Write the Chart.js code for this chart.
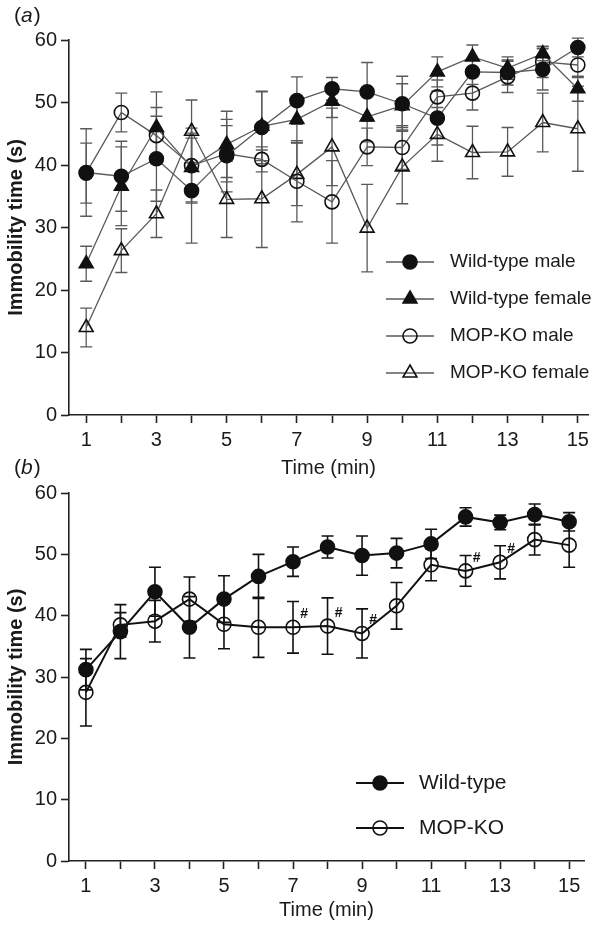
<!DOCTYPE html>
<html>
<head>
<meta charset="utf-8">
<script src="https://cdn.jsdelivr.net/npm/chart.js@4.4.0/dist/chart.umd.min.js"></script>
<style>
  body { margin: 0; background: #fff; }
  .wrap { position: relative; width: 600px; height: 928px; }
  canvas { position: absolute; left: 0; }
  #panelA { top: 0; }
  #panelB { top: 455px; }
</style>
</head>
<body>
<div class="wrap">
  <canvas id="panelA" width="600" height="482"></canvas>
  <canvas id="panelB" width="600" height="473"></canvas>
</div>
<script>
const times = [1, 2, 3, 4, 5, 6, 7, 8, 9, 10, 11, 12, 13, 14, 15];

// panel (a): mean immobility time per sex / genotype
const wtMale = [38.8, 38.2, 41.0, 35.9, 41.5, 46.0, 50.3, 52.2, 51.7, 49.8, 47.5, 54.9, 54.8, 55.3, 58.8];
const wtMaleErr = [7.0, 5.6, 6.8, 8.4, 5.8, 5.8, 3.8, 1.8, 4.7, 4.4, 4.3, 2.0, 2.0, 3.3, 1.5];
const wtFemale = [24.2, 36.6, 46.0, 39.6, 43.3, 46.2, 47.3, 50.2, 47.7, 49.5, 54.9, 57.3, 55.5, 57.8, 52.2];
const wtFemaleErr = [2.8, 6.3, 5.7, 5.5, 5.3, 5.5, 3.7, 2.6, 4.0, 3.5, 2.4, 1.9, 1.8, 1.1, 2.0];
const koMale = [38.7, 48.4, 44.7, 39.9, 41.8, 40.9, 37.4, 34.1, 42.9, 42.8, 50.9, 51.5, 54.1, 56.5, 56.0];
const koMaleErr = [4.8, 3.1, 4.5, 6.0, 4.5, 2.0, 6.5, 6.6, 3.0, 3.5, 2.7, 2.7, 2.5, 2.5, 2.0];
const koFemale = [14.0, 26.3, 32.2, 45.4, 34.5, 34.6, 38.5, 42.9, 29.9, 39.7, 44.9, 42.0, 42.1, 46.8, 45.8];
const koFemaleErr = [3.1, 3.5, 3.8, 5.0, 6.1, 7.8, 5.0, 6.2, 7.0, 5.9, 4.3, 4.2, 3.9, 4.7, 6.8];

// panel (b): sexes pooled
const wtAll = [31.2, 37.4, 43.9, 38.1, 42.7, 46.4, 48.8, 51.2, 49.8, 50.2, 51.7, 56.1, 55.2, 56.5, 55.3];
const wtAllErr = [3.3, 4.4, 4.0, 5.0, 3.8, 3.6, 2.4, 1.8, 3.2, 2.4, 2.4, 1.5, 1.2, 1.7, 1.5];
const koAll = [27.5, 38.5, 39.1, 42.7, 38.6, 38.1, 38.1, 38.3, 37.1, 41.6, 48.3, 47.3, 48.7, 52.4, 51.5];
const koAllErr = [5.5, 2.0, 3.4, 3.6, 4.0, 4.9, 4.2, 4.6, 4.0, 3.8, 2.6, 2.5, 2.7, 2.5, 3.6];
const hashTimes = [7, 8, 9, 12, 13]; // significant vs wild-type (#)

const yTicks = [0, 10, 20, 30, 40, 50, 60];

Chart.defaults.font.family = '"Liberation Sans", Arial, sans-serif';
Chart.defaults.color = '#1a1a1a';

const toPoints = (vals) => times.map((t, i) => ({ x: t, y: vals[i] }));

// vertical SEM bars with caps, drawn under the lines
const errorBars = {
  id: 'errorBars',
  beforeDatasetsDraw(chart) {
    const ctx = chart.ctx;
    const xs = chart.scales.x;
    const ys = chart.scales.y;
    chart.data.datasets.forEach((ds) => {
      ctx.save();
      ctx.strokeStyle = ds.errorColor;
      ctx.lineWidth = ds.errorWidth;
      ds.data.forEach((p, i) => {
        const px = xs.getPixelForValue(p.x);
        const top = ys.getPixelForValue(p.y + ds.errors[i]);
        const bot = ys.getPixelForValue(p.y - ds.errors[i]);
        ctx.beginPath();
        ctx.moveTo(px, top);
        ctx.lineTo(px, bot);
        ctx.moveTo(px - 6, top);
        ctx.lineTo(px + 6, top);
        ctx.moveTo(px - 6, bot);
        ctx.lineTo(px + 6, bot);
        ctx.stroke();
      });
      ctx.restore();
    });
  },
};

// legend sitting inside the plot area
const insetLegend = {
  id: 'insetLegend',
  afterDraw(chart, args, opts) {
    const ctx = chart.ctx;
    chart.data.datasets.forEach((ds, i) => {
      const y = opts.top + i * opts.gap;
      ctx.save();
      ctx.strokeStyle = ds.borderColor;
      ctx.lineWidth = ds.borderWidth;
      ctx.beginPath();
      ctx.moveTo(opts.x1, y);
      ctx.lineTo(opts.x2, y);
      ctx.stroke();
      ctx.fillStyle = ds.pointBackgroundColor;
      ctx.strokeStyle = ds.pointBorderColor;
      ctx.lineWidth = ds.pointBorderWidth;
      Chart.helpers.drawPoint(ctx, {
        pointStyle: ds.pointStyle,
        radius: ds.pointRadius,
        borderWidth: ds.pointBorderWidth,
        rotation: 0,
      }, (opts.x1 + opts.x2) / 2, y);
      ctx.fillStyle = '#1a1a1a';
      ctx.font = opts.size + 'px "Liberation Sans", Arial, sans-serif';
      ctx.textBaseline = 'middle';
      ctx.fillText(ds.label, opts.textX, y);
      ctx.restore();
    });
  },
};

// "(a)" / "(b)" with italic letter
const panelTag = {
  id: 'panelTag',
  afterDraw(chart, args, opts) {
    const ctx = chart.ctx;
    ctx.save();
    ctx.fillStyle = '#1a1a1a';
    ctx.textBaseline = 'middle';
    let x = opts.x;
    ctx.font = '21px "Liberation Sans", Arial, sans-serif';
    ctx.fillText('(', x, opts.y);
    x += ctx.measureText('(').width;
    ctx.font = 'italic 21px "Liberation Sans", Arial, sans-serif';
    ctx.fillText(opts.letter, x, opts.y);
    x += ctx.measureText(opts.letter).width + 1;
    ctx.font = '21px "Liberation Sans", Arial, sans-serif';
    ctx.fillText(')', x, opts.y);
    ctx.restore();
  },
};

// "#" marks next to the MOP-KO points in (b)
const hashMarks = {
  id: 'hashMarks',
  afterDatasetsDraw(chart, args, opts) {
    if (!opts.times) return;
    const ctx = chart.ctx;
    const ds = chart.data.datasets[1];
    ctx.save();
    ctx.fillStyle = '#111';
    ctx.font = 'bold 14px "Liberation Sans", Arial, sans-serif';
    ctx.textAlign = 'center';
    ctx.textBaseline = 'middle';
    opts.times.forEach((t) => {
      const p = ds.data.find((d) => d.x === t);
      const px = chart.scales.x.getPixelForValue(p.x);
      const py = chart.scales.y.getPixelForValue(p.y);
      ctx.fillText('#', px + 11, py - 13);
    });
    ctx.restore();
  },
};

function series(label, vals, errs, style, filled, look) {
  return {
    label: label,
    data: toPoints(vals),
    errors: errs,
    errorColor: look.err,
    errorWidth: look.errWidth,
    borderColor: look.line,
    borderWidth: look.lineWidth,
    pointStyle: style,
    pointRadius: style === 'triangle' ? 8 : 7,
    pointBorderColor: '#111',
    pointBorderWidth: 1.6,
    pointBackgroundColor: filled ? '#111' : 'rgba(0,0,0,0)',
    tension: 0,
    clip: false,
  };
}

function axes(xMax, titlePad) {
  return {
    x: {
      type: 'linear',
      min: 0.51,
      max: xMax,
      afterFit: (s) => { s.height = 67; },
      border: { color: '#222', width: 1.6 },
      grid: { drawOnChartArea: false, tickLength: 8, tickColor: '#222', tickWidth: 1.6 },
      ticks: {
        stepSize: 1,
        includeBounds: false,
        autoSkip: false,
        maxRotation: 0,
        padding: 5,
        font: { size: 20 },
        callback: (v) => (v % 2 === 1 ? v : ''),
      },
      title: { display: true, text: 'Time (min)', font: { size: 20 }, padding: { top: 0, bottom: titlePad } },
    },
    y: {
      min: 0,
      max: 60,
      afterFit: (s) => { s.width = 69; },
      afterBuildTicks: (s) => { s.ticks = yTicks.map((v) => ({ value: v })); },
      border: { color: '#222', width: 1.6 },
      grid: { drawOnChartArea: false, tickLength: 8, tickColor: '#222', tickWidth: 1.6 },
      ticks: { padding: 4, font: { size: 20 } },
      title: { display: true, text: 'Immobility time (s)', font: { size: 20, weight: 'bold' }, padding: { top: 4, bottom: 0 } },
    },
  };
}

const lookA = { line: '#5a5a5a', lineWidth: 1.3, err: '#5a5a5a', errWidth: 1.3 };
const lookB = { line: '#111', lineWidth: 2, err: '#111', errWidth: 1.6 };

new Chart(document.getElementById('panelA'), {
  type: 'line',
  data: {
    datasets: [
      series('Wild-type male', wtMale, wtMaleErr, 'circle', true, lookA),
      series('Wild-type female', wtFemale, wtFemaleErr, 'triangle', true, lookA),
      series('MOP-KO male', koMale, koMaleErr, 'circle', false, lookA),
      series('MOP-KO female', koFemale, koFemaleErr, 'triangle', false, lookA),
    ],
  },
  options: {
    responsive: false,
    animation: false,
    layout: { padding: { top: 40, right: 12, bottom: 0, left: 0 } },
    scales: axes(15.29, 2),
    plugins: {
      legend: { display: false },
      tooltip: { enabled: false },
      insetLegend: { x1: 386, x2: 434, textX: 450, top: 262, gap: 37, size: 19 },
      panelTag: { letter: 'a', x: 14, y: 16 },
      hashMarks: {},
    },
  },
  plugins: [errorBars, insetLegend, panelTag, hashMarks],
});

new Chart(document.getElementById('panelB'), {
  type: 'line',
  data: {
    datasets: [
      series('Wild-type', wtAll, wtAllErr, 'circle', true, lookB),
      series('MOP-KO', koAll, koAllErr, 'circle', false, lookB),
    ],
  },
  options: {
    responsive: false,
    animation: false,
    layout: { padding: { top: 38, right: 16, bottom: 0, left: 0 } },
    scales: axes(15.43, 6),
    plugins: {
      legend: { display: false },
      tooltip: { enabled: false },
      insetLegend: { x1: 356, x2: 404, textX: 419, top: 328, gap: 45, size: 21 },
      panelTag: { letter: 'b', x: 14, y: 13 },
      hashMarks: { times: hashTimes },
    },
  },
  plugins: [errorBars, insetLegend, panelTag, hashMarks],
});
</script>
</body>
</html>
